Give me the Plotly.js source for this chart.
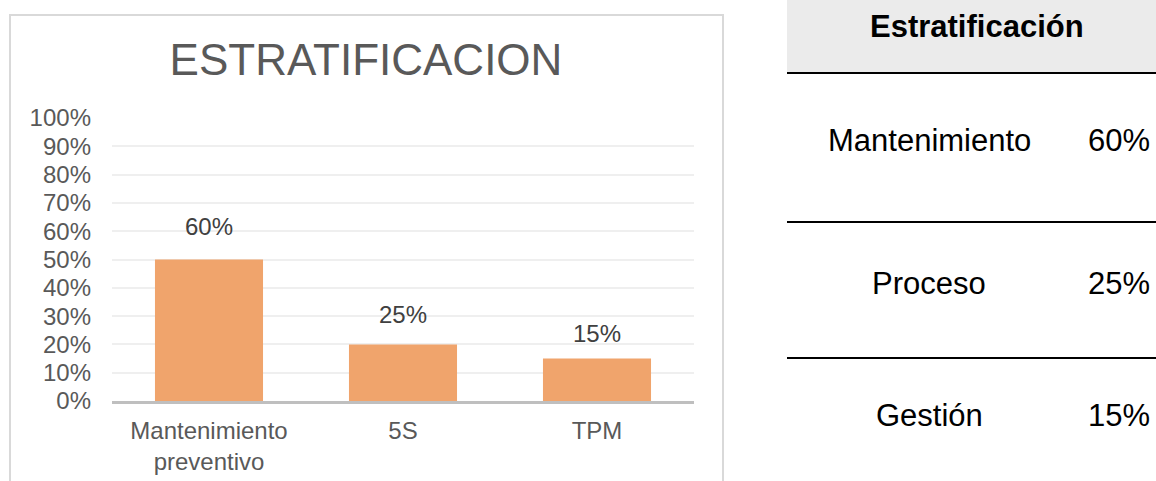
<!DOCTYPE html>
<html>
<head>
<meta charset="utf-8">
<script src="https://cdn.plot.ly/plotly-3.0.1.min.js"></script>
<style>
  html, body { margin: 0; padding: 0; background: #ffffff; }
  #chart { width: 1156px; height: 481px; }
</style>
</head>
<body>
<div id="chart"></div>
<script>
// ---- data ----
const chartTitle = 'ESTRATIFICACION';
const categories = ['Mantenimiento<br>preventivo', '5S', 'TPM'];
const barValues = [0.50, 0.20, 0.15];
const barLabels = ['60%', '25%', '15%'];
const yTickValues = [0, 0.1, 0.2, 0.3, 0.4, 0.5, 0.6, 0.7, 0.8, 0.9, 1.0];
const yTickLabels = ['0%', '10%', '20%', '30%', '40%', '50%', '60%', '70%', '80%', '90%', '100%'];

const tableHeader = 'Estratificación';
const tableRows = ['Mantenimiento', 'Proceso', 'Gestión'];
const tableValues = ['60%', '25%', '15%'];

// ---- styling / geometry (pixels in a 1156x481 canvas) ----
const W = 1156, H = 481;
const px = x => x / W;
const py = y => 1 - y / H;
const labelLift = [33, 30, 25];          // label offset above each bar (px)
const rowTextY = [141, 283, 415];        // table row text centres (px)
const rowLinesY = [73, 222, 358];        // table rule positions (px)

const FONT = 'Liberation Sans, Arial, sans-serif';

const bar = {
  type: 'bar',
  x: categories,
  y: barValues,
  marker: { color: '#f0a46c', line: { width: 0 } },
  hoverinfo: 'skip'
};

const annotations = [];
categories.forEach((c, i) => {
  annotations.push({
    x: c, y: barValues[i], xref: 'x', yref: 'y',
    text: barLabels[i], showarrow: false,
    yanchor: 'middle', yshift: labelLift[i],
    font: { family: FONT, size: 24, color: '#404040' }
  });
});

// table header
annotations.push({
  x: px(977), y: py(26), xref: 'paper', yref: 'paper',
  text: '<b>' + tableHeader + '</b>', showarrow: false,
  xanchor: 'center', yanchor: 'middle',
  font: { family: FONT, size: 31, color: '#000000' }
});
tableRows.forEach((r, i) => {
  annotations.push({
    x: px(929), y: py(rowTextY[i]), xref: 'paper', yref: 'paper',
    text: r, showarrow: false, xanchor: 'center', yanchor: 'middle',
    font: { family: FONT, size: 31, color: '#000000' }
  });
  annotations.push({
    x: px(1152), y: py(rowTextY[i]), xref: 'paper', yref: 'paper',
    text: tableValues[i], showarrow: false, xanchor: 'right', yanchor: 'middle',
    font: { family: FONT, size: 31, color: '#000000' }
  });
});

const shapes = [
  // chart frame
  { type: 'rect', xref: 'paper', yref: 'paper',
    x0: px(10), x1: px(723), y0: py(H + 5), y1: py(15),
    line: { color: '#d9d9d9', width: 2 }, fillcolor: 'rgba(0,0,0,0)', layer: 'below' },
  // table header band
  { type: 'rect', xref: 'paper', yref: 'paper',
    x0: px(787), x1: px(W + 2), y0: py(rowLinesY[0]), y1: py(-2),
    line: { width: 0 }, fillcolor: '#ebebeb', layer: 'below' }
];
rowLinesY.forEach(y => {
  shapes.push({ type: 'line', xref: 'paper', yref: 'paper',
    x0: px(787), x1: px(W + 2), y0: py(y), y1: py(y),
    line: { color: '#000000', width: 2 } });
});

const layout = {
  width: W, height: H,
  margin: { l: 0, r: 0, t: 0, b: 0 },
  paper_bgcolor: '#ffffff', plot_bgcolor: '#ffffff',
  showlegend: false,
  bargap: 0.443,
  title: {
    text: chartTitle,
    x: px(366), y: py(60), xanchor: 'center', yanchor: 'middle',
    xref: 'paper', yref: 'paper',
    font: { family: FONT, size: 44, color: '#595959' }
  },
  xaxis: {
    domain: [px(112), px(694)],
    showline: true, linecolor: '#bfbfbf', linewidth: 3,
    showgrid: false, zeroline: false, ticks: '',
    ticklabelstandoff: 6,
    tickfont: { family: FONT, size: 24, color: '#595959' },
    fixedrange: true
  },
  yaxis: {
    domain: [py(401), py(118)],
    range: [0, 1],
    tickvals: yTickValues, ticktext: yTickLabels,
    showgrid: true, gridcolor: '#efefef', gridwidth: 2,
    zeroline: false, showline: false, ticks: '',
    ticklabelstandoff: 20,
    tickfont: { family: FONT, size: 24, color: '#595959' },
    fixedrange: true
  },
  annotations: annotations,
  shapes: shapes
};

Plotly.newPlot('chart', [bar], layout, { staticPlot: true, displayModeBar: false });
</script>
</body>
</html>
